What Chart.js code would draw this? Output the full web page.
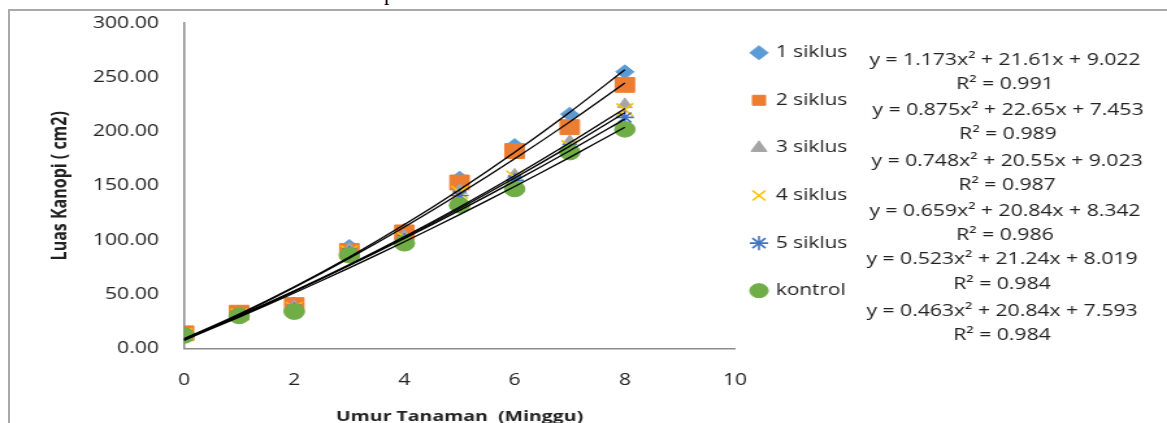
<!DOCTYPE html>
<html>
<head>
<meta charset="utf-8">
<script src="https://cdn.jsdelivr.net/npm/chart.js@4.4.1/dist/chart.umd.min.js"></script>
<style>
  html, body { margin: 0; padding: 0; background: #fff; overflow: hidden; }
  #cut { position: absolute; left: 384px; top: -18px; font: 22px "Liberation Serif"; line-height: 22px; color: #000; }
  #frame { position: absolute; left: 8px; top: 9px; right: -10px; bottom: -10px;
           border-top: 2px solid #a9a9a9; border-left: 2px solid #a9a9a9; }
  /* the source picture is stretched sideways, so the chart is drawn narrow and scaled */
  #wrap { position: absolute; left: 0; top: 0; width: 898px; height: 423px;
          transform: scaleX(1.2996); transform-origin: 0 0; }
</style>
</head>
<body>
<div id="cut">p</div>
<div id="frame"></div>
<div id="wrap"><canvas id="chart"></canvas></div>

<script>
// ---- data ----
const weeks = [0, 1, 2, 3, 4, 5, 6, 7, 8];
const seriesNames = ["1 siklus", "2 siklus", "3 siklus", "4 siklus", "5 siklus", "kontrol"];

const siklus1 = [13, 32, 41, 94, 109, 157, 187, 216, 255];
const siklus2 = [14, 33, 40, 90, 107, 153, 182, 204, 243];
const siklus3 = [13, 31, 39, 92, 104, 146, 160, 191, 225];
const siklus4 = [13, 31, 37, 89, 102, 144, 158, 186, 220];
const siklus5 = [13, 30, 36, 88, 100, 141, 155, 184, 213];
const kontrol = [12, 30, 34, 86, 97, 132, 147, 181, 202];

// printed trendline equations y = a x^2 + b x + c
const coefA = [1.173, 0.875, 0.748, 0.659, 0.523, 0.463];
const coefB = [21.61, 22.65, 20.55, 20.84, 21.24, 20.84];
const coefC = [9.022, 7.453, 9.023, 8.342, 8.019, 7.593];
const rSquared = [0.991, 0.989, 0.987, 0.986, 0.984, 0.984];

const yTicks = [0, 50, 100, 150, 200, 250, 300];
const xTicks = [0, 2, 4, 6, 8, 10];

// ---- styling ----
const colors = ["#5B9BD5", "#ED7D31", "#A5A5A5", "#FFC000", "#4472C4", "#70AD47"];
const markers = ["rectRot", "rect", "triangle", "crossRot", "star", "circle"];
const markerSize = [7, 10.5, 6.5, 9, 7, 7.8];
const textColor = "#222";
const fontFam = "'Open Sans', sans-serif";

const eqX = [773.3, 775.6, 774.9, 773.3, 771.0, 771.0];
const eqY = [60.7, 110, 161, 211, 259, 311];
const r2Y = [84, 134, 185, 235, 284, 335];

const allValues = [siklus1, siklus2, siklus3, siklus4, siklus5, kontrol];

const pointSets = allValues.map((vals, i) => ({
  label: seriesNames[i],
  data: weeks.map((w, k) => ({ x: w, y: vals[k] })),
  pointStyle: markers[i],
  pointRadius: markerSize[i],
  pointHoverRadius: markerSize[i],
  pointBackgroundColor: colors[i],
  pointBorderColor: colors[i],
  pointBorderWidth: (markers[i] === "crossRot" || markers[i] === "star") ? 1.6 : 1,
  backgroundColor: colors[i],
  borderColor: colors[i],
  showLine: false,
  order: 6 - i
}));

// trendlines from the printed equations, evaluated at the measured weeks
const trendSets = coefA.map((a, i) => ({
  label: "trend " + seriesNames[i],
  data: weeks.map(w => ({ x: w, y: a * w * w + coefB[i] * w + coefC[i] })),
  showLine: true,
  borderColor: "#000",
  borderWidth: 1.3,
  pointRadius: 0,
  pointHoverRadius: 0,
  tension: 0.3,
  order: 0
}));

const fmt = n => String(n);

const placeLegend = {
  id: "placeLegend",
  afterLayout(chart) {
    const lg = chart.legend;
    if (!lg) return;
    const dx = 547.4 - lg.left;
    lg.left += dx; lg.right += dx;
    const dy = 13.1 - lg.top;
    lg.top += dy; lg.bottom += dy;
  }
};

const equations = {
  id: "equations",
  afterDraw(chart) {
    const ctx = chart.ctx;
    ctx.save();
    ctx.fillStyle = textColor;
    ctx.font = "16.3px " + fontFam;
    ctx.textAlign = "center";
    ctx.textBaseline = "middle";
    coefA.forEach((a, i) => {
      ctx.fillText("y = " + fmt(a) + "x\u00B2 + " + fmt(coefB[i]) + "x + " + fmt(coefC[i]), eqX[i], eqY[i]);
      ctx.fillText("R\u00B2 = " + rSquared[i].toFixed(3), eqX[i], r2Y[i]);
    });
    ctx.restore();
  }
};

new Chart(document.getElementById("chart"), {
  type: "scatter",
  data: { datasets: [...pointSets, ...trendSets] },
  options: {
    responsive: true,
    maintainAspectRatio: false,
    animation: false,
    layout: { padding: 0 },
    plugins: {
      tooltip: { enabled: false },
      legend: {
        position: "right",
        align: "start",
        labels: {
          usePointStyle: true,
          boxWidth: 10,
          boxHeight: 10,
          padding: 31.6,
          color: textColor,
          font: { family: fontFam, size: 16 },
          filter: item => item.datasetIndex < seriesNames.length,
          sort: (a, b) => a.datasetIndex - b.datasetIndex
        }
      }
    },
    scales: {
      x: {
        type: "linear",
        min: xTicks[0],
        max: xTicks[xTicks.length - 1],
        afterBuildTicks: s => { s.ticks = xTicks.map(v => ({ value: v })); },
        grid: { display: false, drawTicks: false },
        border: { display: true, color: "#8c8c8c", width: 1.5 },
        ticks: { color: textColor, padding: 22, font: { family: fontFam, size: 16.3 } },
        title: {
          display: true,
          text: "Umur Tanaman  (Minggu)",
          color: textColor,
          font: { family: fontFam, size: 15, weight: "bold" },
          padding: { top: 0, bottom: -2.5 }
        },
        afterFit: s => { s.height = 74.5; s.paddingRight = 332.4; s.paddingLeft = 0; }
      },
      y: {
        type: "linear",
        min: yTicks[0],
        max: yTicks[yTicks.length - 1],
        afterBuildTicks: s => { s.ticks = yTicks.map(v => ({ value: v })); },
        grid: { display: false, drawTicks: false },
        border: { display: true, color: "#8c8c8c", width: 1.5 },
        ticks: {
          color: textColor,
          padding: 19.3,
          font: { family: fontFam, size: 16.3 },
          callback: v => Number(v).toFixed(2)
        },
        title: {
          display: true,
          text: "Luas Kanopi ( cm2)",
          color: textColor,
          font: { family: fontFam, size: 16, weight: "bold" },
          padding: { top: 36.6, bottom: 0 }
        },
        afterFit: s => { s.width = 141.6; s.paddingTop = 23; s.paddingBottom = 0; }
      }
    }
  },
  plugins: [placeLegend, equations]
});
</script>
</body>
</html>
